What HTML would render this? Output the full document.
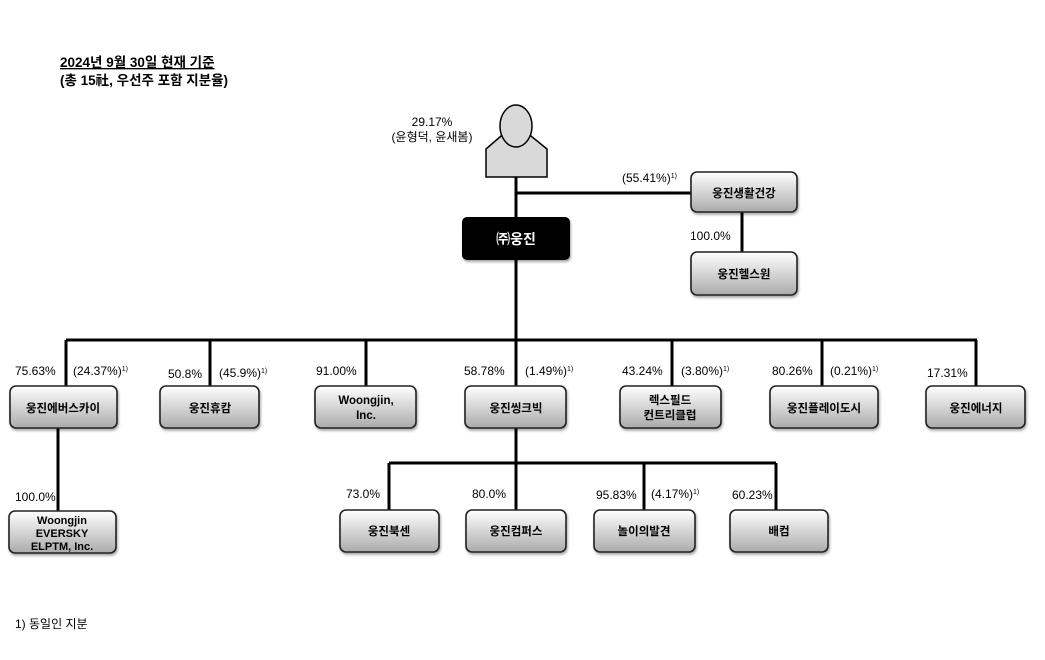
<!DOCTYPE html>
<html><head><meta charset="utf-8"><style>
body{margin:0;background:#fff;}
svg{display:block;font-family:"Liberation Sans","Noto Sans CJK KR",sans-serif;}
.l{font-size:12px;fill:#000;}
.b{font-size:11.5px;fill:#000;font-weight:bold;text-anchor:middle;}
</style></head><body>
<svg width="1045" height="660" viewBox="0 0 1045 660">
<defs>
<linearGradient id="g" x1="0" y1="0" x2="0" y2="1"><stop offset="0" stop-color="#ffffff"/><stop offset="1" stop-color="#ababab"/></linearGradient>
<filter id="s" x="-10%" y="-10%" width="130%" height="140%"><feDropShadow dx="1" dy="2" stdDeviation="1.2" flood-color="#000" flood-opacity="0.35"/></filter>
</defs>
<text x="60" y="67" style="font-size:13.5px;font-weight:bold" text-decoration="underline">2024년 9월 30일 현재 기준</text>
<text x="60" y="85" style="font-size:13.5px;font-weight:bold">(총 15社, 우선주 포함 지분율)</text>
<g stroke="#000" stroke-width="3" fill="none">
<path d="M516 177V340M516 193H691M742 212V252M66 340H977M66 340V386M210 340V386M366 340V386M516 340V386M672 340V386M822 340V386M976 340V386M58 428V511M516 428V463M389 463H776M389 463V511M516 463V511M644 463V511M776 463V511"/>
</g>
<g stroke="#000" stroke-width="1.5" fill="#d9d9d9">
<path d="M486 177V149L501 136H531L547 149V177Z"/>
<ellipse cx="516" cy="126" rx="16" ry="21"/>
</g>
<text x="432" y="126" class="l" text-anchor="middle">29.17%</text>
<text x="432" y="141" class="l" text-anchor="middle">(윤형덕, 윤새봄)</text>
<rect x="462" y="217" width="108" height="43" rx="5" fill="#000" filter="url(#s)"/>
<text x="516" y="244" style="font-size:14px;font-weight:bold;fill:#fff" text-anchor="middle">㈜웅진</text>
<g stroke="#222" stroke-width="1.6" fill="url(#g)" filter="url(#s)">
<rect x="691" y="172" width="106" height="40" rx="6"/>
<rect x="691" y="252" width="106" height="43" rx="6"/>
<rect x="10" y="386" width="107" height="42" rx="6"/>
<rect x="160" y="386" width="99" height="42" rx="6"/>
<rect x="315" y="386" width="101" height="42" rx="6"/>
<rect x="465" y="386" width="101" height="42" rx="6"/>
<rect x="620" y="386" width="101" height="42" rx="6"/>
<rect x="770" y="386" width="108" height="42" rx="6"/>
<rect x="926" y="386" width="99" height="42" rx="6"/>
<rect x="9" y="511" width="107" height="42" rx="6"/>
<rect x="340" y="510" width="99" height="42" rx="6"/>
<rect x="466" y="510" width="100" height="42" rx="6"/>
<rect x="594" y="510" width="101" height="42" rx="6"/>
<rect x="730" y="510" width="98" height="42" rx="6"/>
</g>
<text class="b" x="744" y="197">웅진생활건강</text>
<text class="b" x="744" y="278">웅진헬스원</text>
<text class="b" x="63" y="412">웅진에버스카이</text>
<text class="b" x="210" y="412">웅진휴캄</text>
<text class="b" x="366" y="404">Woongjin,</text><text class="b" x="366" y="419">Inc.</text>
<text class="b" x="516" y="412">웅진씽크빅</text>
<text class="b" x="670" y="404">렉스필드</text><text class="b" x="670" y="419">컨트리클럽</text>
<text class="b" x="824" y="412">웅진플레이도시</text>
<text class="b" x="976" y="412">웅진에너지</text>
<text class="b" x="62" y="524" style="font-size:11px">Woongjin</text><text class="b" x="62" y="537" style="font-size:11px">EVERSKY</text><text class="b" x="62" y="550" style="font-size:11px">ELPTM, Inc.</text>
<text class="b" x="389" y="535">웅진북센</text>
<text class="b" x="516" y="535">웅진컴퍼스</text>
<text class="b" x="644" y="535">놀이의발견</text>
<text class="b" x="779" y="535">배컴</text>
<g class="l">
<text x="622" y="182">(55.41%)<tspan dy="-4" font-size="7">1)</tspan></text>
<text x="690" y="240">100.0%</text>
<text x="15" y="375">75.63%</text>
<text x="73" y="375">(24.37%)<tspan dy="-4" font-size="7">1)</tspan></text>
<text x="168" y="378">50.8%</text>
<text x="219" y="377">(45.9%)<tspan dy="-4" font-size="7">1)</tspan></text>
<text x="316" y="375">91.00%</text>
<text x="464" y="375">58.78%</text>
<text x="525" y="375">(1.49%)<tspan dy="-4" font-size="7">1)</tspan></text>
<text x="622" y="375">43.24%</text>
<text x="681" y="375">(3.80%)<tspan dy="-4" font-size="7">1)</tspan></text>
<text x="772" y="375">80.26%</text>
<text x="830" y="375">(0.21%)<tspan dy="-4" font-size="7">1)</tspan></text>
<text x="927" y="377">17.31%</text>
<text x="15" y="501">100.0%</text>
<text x="346" y="498">73.0%</text>
<text x="472" y="498">80.0%</text>
<text x="596" y="499">95.83%</text>
<text x="651" y="498">(4.17%)<tspan dy="-4" font-size="7">1)</tspan></text>
<text x="732" y="499">60.23%</text>
<text x="15" y="628">1) 동일인 지분</text>
</g>
</svg>
</body></html>
